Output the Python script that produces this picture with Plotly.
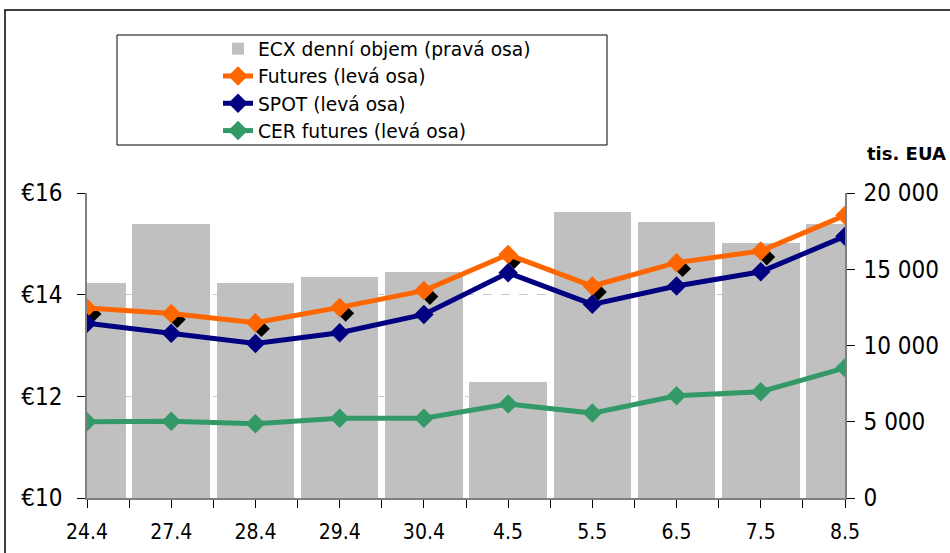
import plotly.graph_objects as go

dates = ["24.4", "27.4", "28.4", "29.4", "30.4", "4.5", "5.5", "6.5", "7.5", "8.5"]
ecx_volume = [14100, 18000, 14100, 14500, 14800, 7600, 18750, 18100, 16700, 18000]
futures = [13.74, 13.63, 13.45, 13.75, 14.08, 14.79, 14.17, 14.63, 14.86, 15.56]
spot = [13.44, 13.24, 13.04, 13.25, 13.61, 14.43, 13.81, 14.17, 14.45, 15.15]
cer_futures = [11.50, 11.51, 11.46, 11.57, 11.57, 11.85, 11.67, 12.01, 12.09, 12.56]

idx = list(range(len(dates)))

FONT = "DejaVu Sans"
AXFONT = "DejaVu Sans Condensed, DejaVu Sans"
W, H = 950, 553
L, R, T, B = 87, 105, 193, 55
PW = W - L - R
PH = H - T - B


def px_x(p):
    return (p - L) / PW


def px_y(p):
    return (H - B - p) / PH


fig = go.Figure()

fig.add_trace(go.Bar(
    x=idx, y=ecx_volume, name="ECX denní objem (pravá osa)",
    marker=dict(color="#C0C0C0", line=dict(width=0)),
    width=0.92, xaxis="x", yaxis="y", legendgroup="g1",
))

# black shadow markers under the Futures markers
fig.add_trace(go.Scatter(
    x=idx, y=futures, mode="markers", showlegend=False, hoverinfo="skip",
    marker=dict(symbol="diamond", size=13, color="black"),
    xaxis="x2", yaxis="y3",
))

line_series = [
    ("Futures (levá osa)", futures, "#FF6600", "g2"),
    ("SPOT (levá osa)", spot, "#000080", "g3"),
    ("CER futures (levá osa)", cer_futures, "#339966", "g4"),
]
for name, vals, color, grp in line_series:
    fig.add_trace(go.Scatter(
        x=idx, y=vals, name=name, mode="lines+markers",
        line=dict(color=color, width=5),
        marker=dict(symbol="diamond", size=15, color=color),
        xaxis="x3", yaxis="y2", legendgroup=grp,
    ))

dx = 6 / (PW / 9)
dy = 6 / (PH / 6)

axis_font = dict(family=AXFONT, size=24, color="black")

fig.update_layout(
    width=W, height=H,
    margin=dict(l=L, r=R, t=T, b=B, autoexpand=False),
    paper_bgcolor="white", plot_bgcolor="white",
    separators=". ",
    bargap=0,
    font=dict(family=FONT, color="black"),
    xaxis=dict(
        range=[0, 9], tickmode="array", tickvals=idx, ticktext=dates,
        ticks="outside", ticklen=8, tickcolor="black", tickwidth=1,
        showline=True, linecolor="#808080", linewidth=1.5,
        showgrid=False, zeroline=False, ticklabelstandoff=6, automargin=False,
        tickfont=dict(family=AXFONT, size=21, color="black"),
        minor=dict(tickmode="linear", tick0=0.5, dtick=1, ticks="outside",
                   ticklen=8, tickcolor="black", showgrid=False),
    ),
    yaxis=dict(
        side="right", range=[0, 20000], tickmode="linear", tick0=0, dtick=5000,
        tickformat=",d", ticks="outside", ticklen=8, tickcolor="black",
        showline=True, linecolor="#808080", linewidth=1.5,
        showgrid=False, zeroline=False, tickfont=axis_font,
        ticklabelstandoff=4, automargin=False,
    ),
    xaxis2=dict(overlaying="x", range=[-dx, 9 - dx], visible=False),
    yaxis3=dict(overlaying="y", range=[10 + dy, 16 + dy], visible=False),
    xaxis3=dict(overlaying="x", range=[0, 9], visible=False),
    yaxis2=dict(
        overlaying="y", anchor="x3", side="left", range=[10, 16],
        tickmode="linear", tick0=10, dtick=2, tickprefix="€",
        ticks="outside", ticklen=8, tickcolor="black",
        showline=True, linecolor="#808080", linewidth=1.5,
        showgrid=True, gridcolor="#C8C8C8", griddash="dash", gridwidth=1,
        zeroline=False, tickfont=axis_font, ticklabelstandoff=10,
        automargin=False,
    ),
    legend=dict(
        x=px_x(218), y=px_y(30), xanchor="left", yanchor="top",
        bgcolor="rgba(0,0,0,0)", borderwidth=0,
        font=dict(family=FONT, size=18.7, color="black"),
        tracegroupgap=3, traceorder="normal",
    ),
    shapes=[
        dict(type="rect", xref="paper", yref="paper",
             x0=px_x(5), x1=px_x(990), y0=px_y(600), y1=px_y(10),
             line=dict(color="black", width=1.5), layer="below"),
        dict(type="rect", xref="paper", yref="paper",
             x0=px_x(117), x1=px_x(607), y0=px_y(145), y1=px_y(35),
             line=dict(color="black", width=1), layer="above"),
    ],
    annotations=[
        dict(text="<b>tis. EUA</b>", xref="paper", yref="paper",
             x=px_x(948), y=px_y(153), xanchor="right", yanchor="middle",
             showarrow=False, font=dict(family=FONT, size=18, color="black")),
    ],
)

fig.write_html("out.html", config={"displayModeBar": False},
               post_script="document.body.style.margin='0px';")
